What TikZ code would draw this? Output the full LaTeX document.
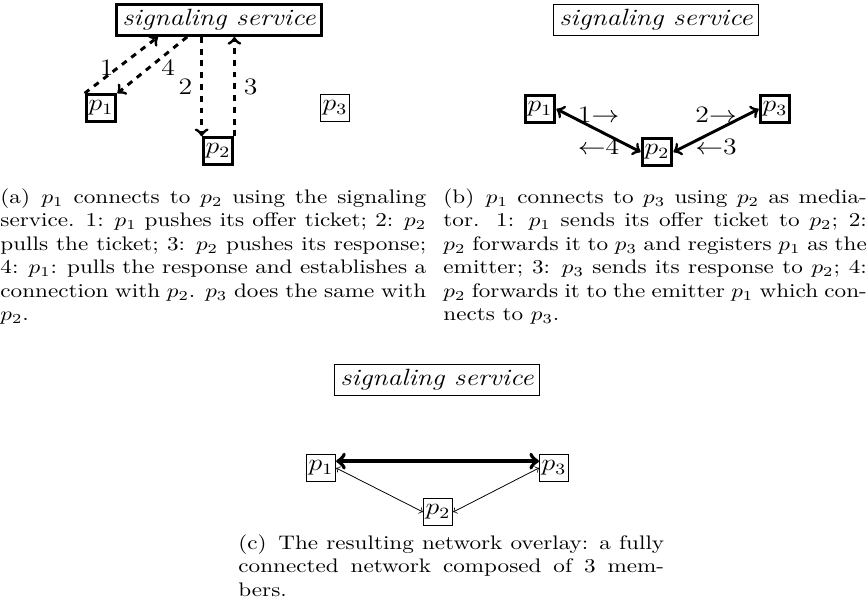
\documentclass[tikz,border=0pt]{standalone}
\usepackage{amsmath}
\usepackage{tikz}

\begin{document}
\begin{tikzpicture}[x=0.4322pt,y=-0.51pt,xscale=1.18,transform shape,>=to,font=\large,
  peer node/.style={rectangle,draw,inner xsep=1pt,inner ysep=3pt},
  server node/.style={rectangle,draw,inner sep=2.5pt,font=\large\itshape},
  bold/.style={line width=1.5pt},
  caption node/.style={anchor=north west,align=justify,font=\normalsize,inner sep=0pt,text width=184pt}]

\useasboundingbox (0,0) rectangle (867,613);

% (a) through the signaling service
\node[server node,bold] (sa) at (219,20)  {signaling service};
\node[peer node,bold]   (a1) at (101,108) {$p_1$};
\node[peer node,bold]   (a2) at (218,151) {$p_2$};
\node[peer node]        (a3) at (335,108) {$p_3$};

\path[->,bold,dashed]
  (a1.north west)             edge node[pos=0.46,xshift=-5pt] {1} ([xshift=-26.4pt]sa.south)
  ([xshift=-13.8pt]sa.south)  edge node[pos=0.45,xshift=5.4pt,yshift=-2.8pt] {4} (a1.north east)
  (sa.south -| a2.north west) edge node[left]  {2} (a2.north west)
  (a2.north east)             edge node[right] {3} (sa.south -| a2.north east);

\node[caption node] (capa) at (0,188)
  {(a)\enspace $p_1$ connects to $p_2$ using the signaling service. 1: $p_1$ pushes its offer ticket; 2: $p_2$ pulls the ticket; 3: $p_2$ pushes its response; 4: $p_1$: pulls the response and establishes a connection with $p_2$. $p_3$ does the same with $p_2$.};

% (b) p2 as mediator
\node[server node]    (sb) at (656,20)  {signaling service};
\node[peer node,bold] (b1) at (540,109) {$p_1$};
\node[peer node,bold] (b2) at (657,152) {$p_2$};
\node[peer node,bold] (b3) at (775,109) {$p_3$};

\path[<->,bold]
  (b1.east) edge node[above] {1$\rightarrow$} node[below] {$\leftarrow$4} (b2.west)
  (b2.east) edge node[above] {2$\rightarrow$} node[below] {$\leftarrow$3} (b3.west);

\node[caption node,text width=183pt] (capb) at (443,188)
  {(b)\enspace $p_1$ connects to $p_3$ using $p_2$ as mediator. 1: $p_1$ sends its offer ticket to $p_2$; 2: $p_2$ forwards it to $p_3$ and registers $p_1$ as the emitter; 3: $p_3$ sends its response to $p_2$; 4: $p_2$ forwards it to the emitter $p_1$ which connects to $p_3$.};

% (c) resulting overlay
\node[server node] (sc) at (437,380) {signaling service};
\node[peer node]   (c1) at (321,468) {$p_1$};
\node[peer node]   (c2) at (438,512) {$p_2$};
\node[peer node]   (c3) at (554,468) {$p_3$};

\path[<->]
  ([yshift=3.5pt]c1.east) edge[line width=2pt] ([yshift=3.5pt]c3.west)
  (c1.east) edge (c2.west)
  (c2.east) edge (c3.west);

\node[caption node] (capc) at (238,534)
  {(c)\enspace The resulting network overlay: a fully connected network composed of 3 members.};

\end{tikzpicture}
\end{document}
